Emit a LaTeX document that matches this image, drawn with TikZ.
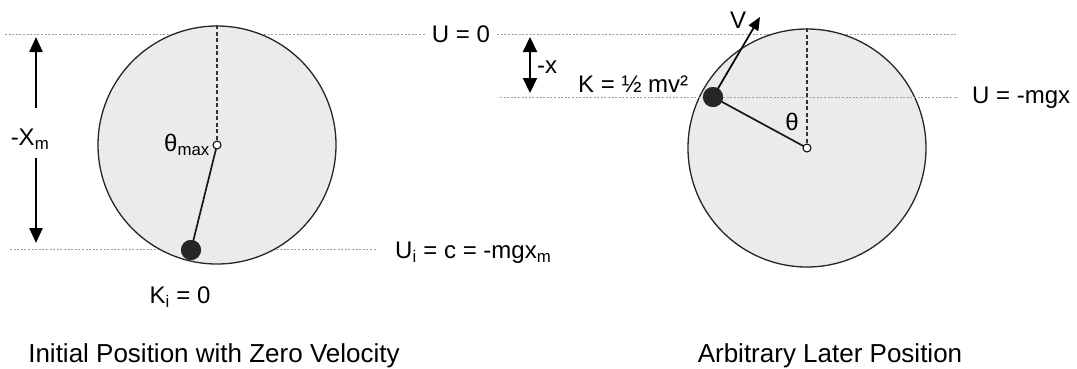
\documentclass[tikz,border=0pt]{standalone}
\usepackage{fontspec}
\setmainfont{Liberation Sans}
\usetikzlibrary{arrows.meta}
\begin{document}
\begin{tikzpicture}[x=1pt,y=-1pt,
  lbl/.style={inner sep=0pt, font=\fontsize{24}{28}\selectfont},
  captxt/.style={inner sep=0pt, font=\fontsize{26}{30}\selectfont},
  guide/.style={draw=gray!75, line width=0.9pt, dash pattern=on 2pt off 1.6pt},
  wheel/.style={circle, draw=black!85, line width=1.3pt, fill=gray!16, minimum size=238pt, inner sep=0pt},
  vdash/.style={draw=black!80, line width=1.4pt, dash pattern=on 4pt off 2.5pt},
  rod/.style={draw=black!90, line width=1.7pt},
  bob/.style={circle, fill=black!85, minimum size=20pt, inner sep=0pt},
  pivot/.style={circle, draw=black, fill=white, line width=1pt, minimum size=8pt, inner sep=0pt},
  bigarrow/.style={line width=2.4pt, -{Triangle[width=13pt,length=15pt]}},
]
\useasboundingbox (0,0) rectangle (1077,368);

% labels
\node[lbl] (u0) at (461,34) {U = 0};
\node[lbl, anchor=west] (um) at (972,98) {U = -mgx};
\node[lbl, anchor=base west] (kl) at (578,92) {K = ½ mv²};
\node[lbl] (mx) at (547,67) {-x};
\node[lbl] (xm) at (30,139) {-X\textsubscript{m}};
\node[lbl, anchor=west] (ui) at (395,253) {U\textsubscript{i} = c = -mgx\textsubscript{m}};
\node[lbl] (ki) at (180,297) {K\textsubscript{i} = 0};
\node[captxt, anchor=base] (cap1) at (214,362) {Initial Position with Zero Velocity};
\node[captxt, anchor=base] (cap2) at (830,362) {Arbitrary Later Position};

% coordinates
\coordinate (tl) at (5,34);
\coordinate (tr) at (958,34);
\coordinate (bl) at (10,249);
\coordinate (ml) at (500,97);
\coordinate (mr) at (958,97);
\coordinate (a1top) at (36,37);
\coordinate (a1up) at (36,108);
\coordinate (a1dn) at (36,158);
\coordinate (a1bot) at (36,243);
\coordinate (a2top) at (530,37);
\coordinate (a2bot) at (530,93);
\coordinate (vt) at (760,17);

% guide lines behind the wheels
\draw[guide] (tl) -- ([xshift=-7pt]u0.west);
\draw[guide] ([xshift=7pt]u0.east) -- (tr);
\draw[guide] (bl) -- ([xshift=-18pt]ui.west |- bl);

% wheels
\node[wheel] (c1) at (217,145) {};
\node[wheel] (c2) at (807,148) {};

% pivots and bobs positions
\coordinate (p1) at (217,145);
\coordinate (p2) at (807,148);

% vertical dashed references
\draw[vdash] (c1.north) -- (p1);
\draw[vdash] (c2.north) -- (p2);

% middle guide over the right wheel
\draw[guide] (ml) -- (mr);

% rods
\node[bob] (b1) at (191,250) {};
\node[bob] (b2) at (713,97) {};
\draw[rod] (p1) -- (b1.center);
\draw[rod] (p2) -- (b2.center);
\draw[line width=1.7pt, -{Triangle[width=11pt,length=13pt]}] (b2.center) -- (vt);
\node[bob] at (b1) {};
\node[bob] at (b2) {};
\node[pivot] (pv1) at (p1) {};
\node[pivot] (pv2) at (p2) {};

\node[lbl, anchor=east] (tm) at (210,145) {θ\textsubscript{max}};
\node[lbl] (th) at (792,122) {θ};
\node[lbl] (vl) at (738,20) {V};

% dimension arrows
\draw[bigarrow] (a1up) -- (a1top);
\draw[bigarrow] (a1dn) -- (a1bot);
\draw[line width=2.2pt, {Triangle[width=14pt,length=15pt]}-{Triangle[width=14pt,length=15pt]}] (a2top) -- (a2bot);
\end{tikzpicture}
\end{document}
